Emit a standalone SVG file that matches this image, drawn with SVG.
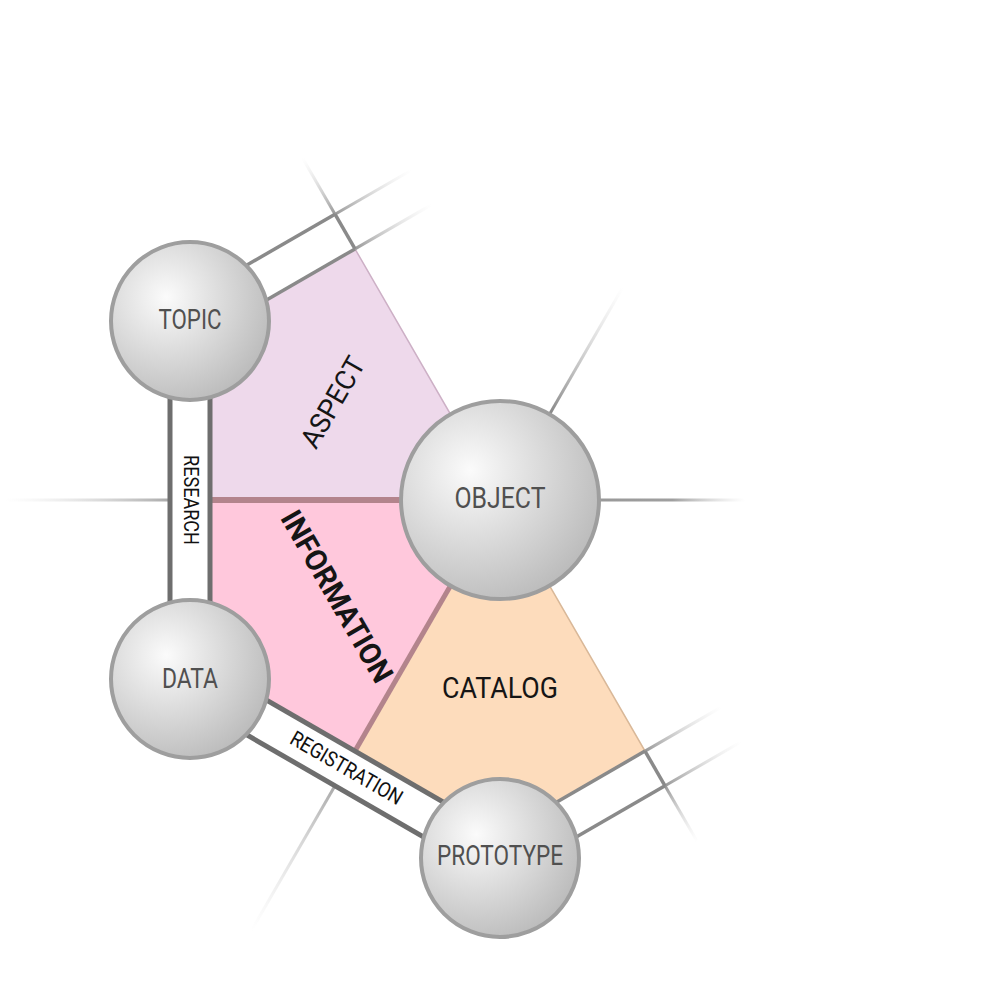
<svg xmlns="http://www.w3.org/2000/svg" width="1000" height="1000" viewBox="0 0 1000 1000">
<style>
.bar{stroke:#6e6e6e;stroke-width:5;fill:none}
.arm{stroke:#8a8a8a;stroke-width:3.5;fill:none}
.fade{stroke-width:3;fill:none}
.node{fill:url(#ball);stroke:#9e9e9e;stroke-width:4}
.nlabel{font-family:Roboto,"Liberation Sans",sans-serif;fill:#505050;text-anchor:middle}
.rlabel{font-family:Roboto,"Liberation Sans",sans-serif;fill:#151515;text-anchor:middle}
.clabel{font-family:Roboto,"Liberation Sans",sans-serif;fill:#111;text-anchor:middle;font-size:21px}
</style>
<defs>
<radialGradient id="ball" cx="0.35" cy="0.35" r="0.7">
<stop offset="0" stop-color="#fbfbfb"/>
<stop offset="1" stop-color="#bcbcbc"/>
</radialGradient>
<linearGradient id="f0" gradientUnits="userSpaceOnUse" x1="600" y1="500" x2="745" y2="500"><stop offset="0" stop-color="#999"/><stop offset="0.5" stop-color="#9f9f9f"/><stop offset="1" stop-color="#ccc" stop-opacity="0"/></linearGradient>
<linearGradient id="f300" gradientUnits="userSpaceOnUse" x1="550" y1="413.4" x2="622.5" y2="287.8"><stop offset="0" stop-color="#888"/><stop offset="1" stop-color="#ccc" stop-opacity="0"/></linearGradient>
<linearGradient id="f180" gradientUnits="userSpaceOnUse" x1="170" y1="500" x2="5" y2="500"><stop offset="0" stop-color="#aaa"/><stop offset="1" stop-color="#ddd" stop-opacity="0"/></linearGradient>
<linearGradient id="f120" gradientUnits="userSpaceOnUse" x1="335" y1="785.8" x2="251.5" y2="930.4"><stop offset="0" stop-color="#aaa"/><stop offset="1" stop-color="#ddd" stop-opacity="0"/></linearGradient>
<linearGradient id="f240" gradientUnits="userSpaceOnUse" x1="335" y1="214.2" x2="302.5" y2="157.9"><stop offset="0" stop-color="#999"/><stop offset="1" stop-color="#ddd" stop-opacity="0"/></linearGradient>
<linearGradient id="f60" gradientUnits="userSpaceOnUse" x1="665" y1="785.8" x2="697.5" y2="842.1"><stop offset="0" stop-color="#999"/><stop offset="1" stop-color="#ddd" stop-opacity="0"/></linearGradient>
<linearGradient id="ti" gradientUnits="userSpaceOnUse" x1="355" y1="248.9" x2="431.2" y2="204.9"><stop offset="0" stop-color="#999"/><stop offset="1" stop-color="#ddd" stop-opacity="0"/></linearGradient>
<linearGradient id="to" gradientUnits="userSpaceOnUse" x1="335" y1="214.2" x2="411.2" y2="170.2"><stop offset="0" stop-color="#999"/><stop offset="1" stop-color="#ddd" stop-opacity="0"/></linearGradient>
<linearGradient id="pi" gradientUnits="userSpaceOnUse" x1="645" y1="751.1" x2="721.2" y2="707.1"><stop offset="0" stop-color="#999"/><stop offset="1" stop-color="#ddd" stop-opacity="0"/></linearGradient>
<linearGradient id="po" gradientUnits="userSpaceOnUse" x1="665" y1="785.8" x2="741.2" y2="741.8"><stop offset="0" stop-color="#999"/><stop offset="1" stop-color="#ddd" stop-opacity="0"/></linearGradient>
</defs>
<rect width="1000" height="1000" fill="#fff"/>

<g id="aspect">
<polygon points="500,500 355,248.9 210,332.6 210,500" fill="#eed9eb" stroke="#cdb0c6" stroke-width="1.5"/>
<text class="rlabel" font-size="28" textLength="100" lengthAdjust="spacingAndGlyphs" transform="translate(341,407) rotate(-60)">ASPECT</text>
</g>
<g id="information">
<polygon points="500,500 210,500 210,667.4 355,751.1" fill="#ffc8dc"/>
<text class="rlabel" font-size="30" font-weight="bold" textLength="193" lengthAdjust="spacingAndGlyphs" transform="translate(328,601.5) rotate(60)">INFORMATION</text>
</g>
<g id="catalog">
<polygon points="500,500 355,751.1 500,834.9 645,751.1" fill="#fddcbc" stroke="#d9b898" stroke-width="1.5"/>
<text class="rlabel" font-size="30" textLength="116" lengthAdjust="spacingAndGlyphs" x="500" y="697.5">CATALOG</text>
</g>

<g id="connectors">
<line x1="500" y1="500" x2="210" y2="500" stroke="#b3848c" stroke-width="6"/>
<line x1="500" y1="500" x2="355" y2="751.1" stroke="#b3848c" stroke-width="5"/>
<line class="fade" x1="600" y1="500" x2="745" y2="500" stroke="url(#f0)"/>
<line class="fade" x1="550" y1="413.4" x2="622.5" y2="287.8" stroke="url(#f300)"/>
<line class="fade" x1="170" y1="500" x2="5" y2="500" stroke="url(#f180)"/>
<line class="fade" x1="335" y1="785.8" x2="251.5" y2="930.4" stroke="url(#f120)"/>
<line class="fade" x1="335" y1="214.2" x2="302.5" y2="157.9" stroke="url(#f240)"/>
<line class="fade" x1="665" y1="785.8" x2="697.5" y2="842.1" stroke="url(#f60)"/>
<line class="fade" x1="355" y1="248.9" x2="431.2" y2="204.9" stroke="url(#ti)"/>
<line class="fade" x1="335" y1="214.2" x2="411.2" y2="170.2" stroke="url(#to)"/>
<line class="fade" x1="645" y1="751.1" x2="721.2" y2="707.1" stroke="url(#pi)"/>
<line class="fade" x1="665" y1="785.8" x2="741.2" y2="741.8" stroke="url(#po)"/>
<g id="topic-arm">
<line class="arm" x1="200" y1="338.4" x2="355" y2="248.9"/>
<line class="arm" x1="180" y1="303.7" x2="335" y2="214.2"/>
<line class="arm" x1="355" y1="248.9" x2="335" y2="214.2"/>
</g>
<g id="prototype-arm">
<line class="arm" x1="490" y1="840.6" x2="645" y2="751.1"/>
<line class="arm" x1="510" y1="875.3" x2="665" y2="785.8"/>
<line class="arm" x1="645" y1="751.1" x2="665" y2="785.8"/>
</g>
<g id="research">
<line class="bar" x1="170" y1="321" x2="170" y2="679"/>
<line class="bar" x1="210" y1="321" x2="210" y2="679"/>
<text class="clabel" font-size="22" textLength="90" lengthAdjust="spacingAndGlyphs" transform="translate(183.5,500) rotate(90)">RESEARCH</text>
</g>
<g id="registration">
<line class="bar" x1="200" y1="661.6" x2="510" y2="840.6"/>
<line class="bar" x1="180" y1="696.3" x2="490" y2="875.3"/>
<text class="clabel" textLength="126" lengthAdjust="spacingAndGlyphs" transform="translate(343,774.2) rotate(30)">REGISTRATION</text>
</g>
</g>

<g id="topic">
<circle class="node" cx="190" cy="321" r="79"/>
<text class="nlabel" font-size="27" textLength="63" lengthAdjust="spacingAndGlyphs" x="190" y="328.5">TOPIC</text>
</g>
<g id="object">
<circle class="node" cx="500" cy="500" r="99"/>
<text class="nlabel" font-size="29" textLength="91" lengthAdjust="spacingAndGlyphs" x="500" y="507.5">OBJECT</text>
</g>
<g id="data">
<circle class="node" cx="190" cy="679" r="79"/>
<text class="nlabel" font-size="27" textLength="56" lengthAdjust="spacingAndGlyphs" x="190" y="687.5">DATA</text>
</g>
<g id="prototype">
<circle class="node" cx="500" cy="858" r="79"/>
<text class="nlabel" font-size="28" textLength="126" lengthAdjust="spacingAndGlyphs" x="500" y="865">PROTOTYPE</text>
</g>
</svg>
